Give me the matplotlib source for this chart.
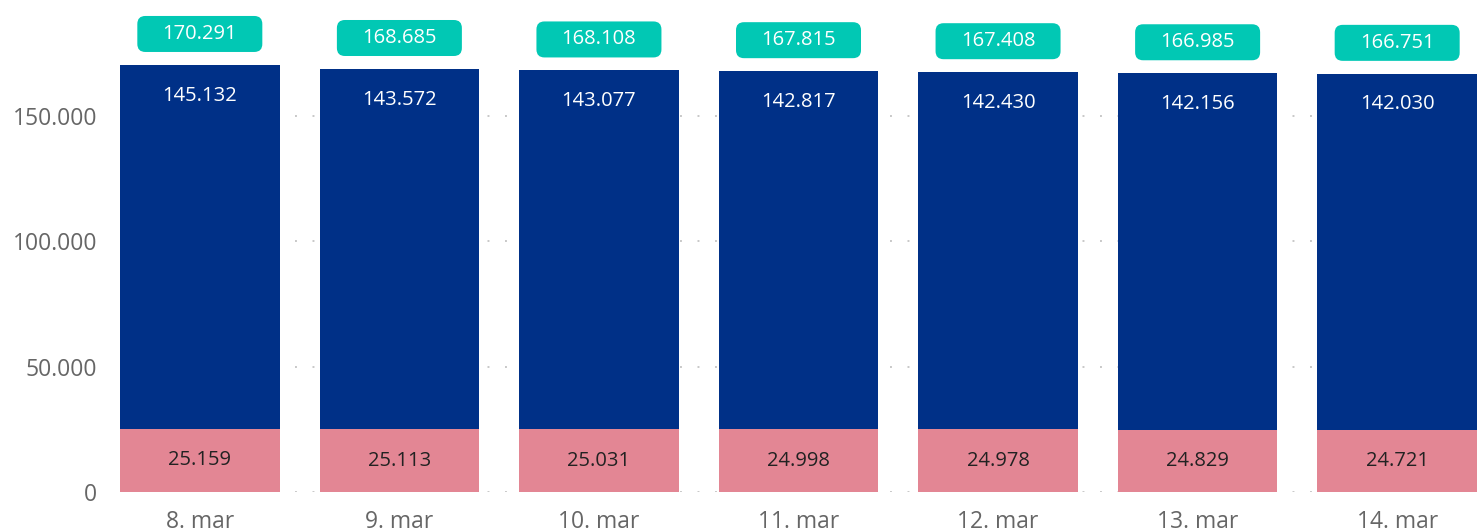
import matplotlib.pyplot as plt
import matplotlib.transforms as mtransforms
from matplotlib.patches import FancyBboxPatch
from matplotlib.ticker import FuncFormatter
import numpy as np

# DATA
# ----
dates = ['8. mar', '9. mar', '10. mar', '11. mar', '12. mar', '13. mar', '14. mar']
lower = [25159, 25113, 25031, 24998, 24978, 24829, 24721]
upper = [145132, 143572, 143077, 142817, 142430, 142156, 142030]
totals = [a + b for a, b in zip(lower, upper)]

navy = '#003087'
pink = '#E38694'
teal = '#01C8B4'
grey = '#666666'


def fmt(v):
    return f"{int(v):,}".replace(",", ".")


plt.rcParams['font.family'] = ['Open Sans', 'DejaVu Sans']

fig = plt.figure(figsize=(14.8, 5.29), dpi=100)
ax = fig.add_axes([120 / 1480, 37 / 529, 1357 / 1480, 492 / 529])

x = np.arange(len(dates))
ax.bar(x, lower, width=0.8, color=pink, zorder=2)
ax.bar(x, upper, width=0.8, bottom=lower, color=navy, zorder=2)

ax.set_xlim(-0.4, len(dates) - 0.6)
ax.set_ylim(0, 196200)
ax.set_yticks([0, 50000, 100000, 150000])
ax.yaxis.set_major_formatter(FuncFormatter(lambda v, p: fmt(v)))
ax.set_xticks(x)
ax.set_xticklabels(dates)
ax.tick_params(axis='both', length=0, labelsize=16.5, labelcolor=grey)
ax.tick_params(axis='y', pad=16.5)
ax.tick_params(axis='x', pad=13)
ax.grid(axis='y', color='#c8c8c8', linestyle=(0, (1, 8)), linewidth=1.4, zorder=0)
for s in ax.spines.values():
    s.set_visible(False)

for i in range(len(dates)):
    # pink segment label
    ax.text(x[i], lower[i] / 2, fmt(lower[i]), ha='center', va='center',
            fontsize=14.5, color='#222222', zorder=3)
    # navy segment label near its top
    ax.annotate(fmt(upper[i]), (x[i], totals[i]), xytext=(0, -22),
                textcoords='offset points', ha='center', va='center',
                fontsize=14.5, color='white', zorder=3)
    # total in teal box
    trans = fig.dpi_scale_trans + mtransforms.ScaledTranslation(x[i], totals[i], ax.transData)
    box = FancyBboxPatch((-0.625, 0.31 - 0.18), 1.25, 0.36,
                         boxstyle='round,pad=0,rounding_size=0.08',
                         transform=trans, facecolor=teal, edgecolor='none',
                         clip_on=False, zorder=3)
    ax.add_patch(box)
    ax.annotate(fmt(totals[i]), (x[i], totals[i]), xytext=(0, 0.31 * 72),
                textcoords='offset points', ha='center', va='center',
                fontsize=14.5, color='white', zorder=4, annotation_clip=False)

fig.savefig('out.png', dpi=100)
